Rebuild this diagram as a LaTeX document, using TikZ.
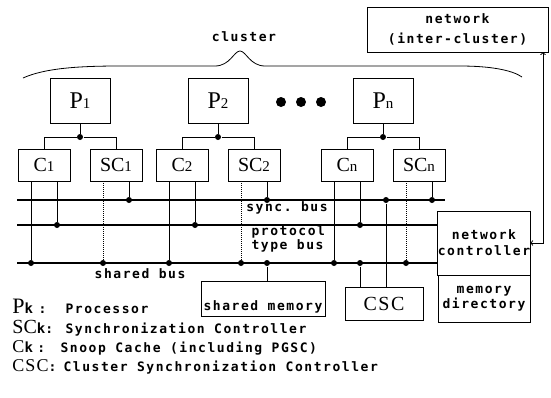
\documentclass[tikz,border=0pt]{standalone}
\usepackage{fontspec}
\setmainfont{Liberation Serif}
\newfontfamily\dotfont[LetterSpace=12]{DejaVu Sans Mono Bold}
\usetikzlibrary{positioning}
\newcommand{\subidx}[1]{{\fontsize{15}{15}\selectfont #1}}
\newcommand{\keyk}{{\dotfont\fontsize{14}{14}\selectfont k}}

\begin{document}
\begin{tikzpicture}[x=1pt,y=-1pt,line width=1pt,>=to,
  box/.style={draw,inner sep=0pt,outer sep=0pt},
  pbox/.style={box,minimum width=60,minimum height=45,font=\fontsize{24}{24}\selectfont},
  cbox/.style={box,minimum width=52,minimum height=32,font=\fontsize{20}{20}\selectfont},
  lbl/.style={inner sep=0pt,font=\dotfont\fontsize{13}{16}\selectfont},
  key/.style={inner sep=0pt,anchor=base west},
  dot/.style={circle,fill,inner sep=0pt,minimum size=6},
  bus/.style={line width=1.1pt}]
\useasboundingbox (0,0) rectangle (551,397);
\draw[line width=0.8pt] (23,78) .. controls (45,68) and (80,66) .. (120,66) -- (215,66) .. controls (230,66) and (234,51) .. (240,51) .. controls (246,51) and (250,66) .. (265,66) -- (460,66) .. controls (490,66) and (512,70) .. (522,77);
\node[lbl] (cluster) at (244,37) {cluster};
\node[box,lbl,align=center,minimum width=181,minimum height=45,font=\dotfont\fontsize{13}{20}\selectfont] (network) at (457.5,29.5) {network\\(inter-cluster)};
\foreach \xx in {281,301,321} \fill (\xx,102) circle[radius=5pt];
\node[box,lbl,align=center,minimum width=92,minimum height=64] (netctrl) at (484,243) {network\\controller};
\node[box,lbl,align=center,minimum width=92,minimum height=47,below=0pt of netctrl,font=\dotfont\fontsize{13}{15}\selectfont] (memdir) {memory\\directory};
\coordinate (syncW) at (17,200);
\coordinate (syncE) at (445,200);
\coordinate (protW) at (17,225);
\coordinate (sharW) at (17,263);
\draw[bus] (syncW) -- (syncE);
\draw[bus] (protW) -- (protW -| netctrl.west);
\draw[bus] (sharW) -- (sharW -| netctrl.west);
\foreach \i/\xp in {1/80,2/218,n/383}{
  \node[pbox] (P\i) at (\xp,101) {P\subidx{\i}};
  \node[cbox] (C\i) at (\xp-36,165) {C\subidx{\i}};
  \node[cbox] (SC\i) at (\xp+36,165) {SC\subidx{\i}};
  \node[dot] (J\i) at (\xp,137) {};
  \draw (P\i) -- (J\i);
  \draw (C\i) |- (J\i) -| (SC\i);
  \node[dot] (cs\i) at (\xp-49,263) {};
  \node[dot] (cp\i) at (\xp-23,225) {};
  \node[dot] (ss\i) at (\xp+23,263) {};
  \node[dot] (sy\i) at (\xp+49,200) {};
  \draw (cs\i |- C\i.south) -- (cs\i);
  \draw (cp\i |- C\i.south) -- (cp\i);
  \draw[densely dotted] (ss\i |- SC\i.south) -- (ss\i);
  \draw (sy\i |- SC\i.south) -- (sy\i);
}
\node[box,lbl,minimum width=124,minimum height=35,text height=25pt,text depth=2pt] (mem) at (263,298.5) {shared memory};
\node[dot] (memtap) at (267,263) {};
\draw (memtap) -- (memtap |- mem.north);
\node[box,minimum width=78,minimum height=33,font=\fontsize{20}{20}\selectfont] (CSC) at (384,303.5) {C\kern1.5pt S\kern1.5pt C};
\node[dot] (cscs) at (360,263) {};
\node[dot] (cscy) at (386,200) {};
\draw (cscs) -- (cscs |- CSC.north);
\draw (cscy) -- (cscy |- CSC.north);
\coordinate (netx) at (543,52);
\draw[<->] (netx) |- (netctrl.east);
\node[lbl] (syncl) at (287,208) {sync.\ bus};
\node[lbl,align=left,anchor=west,font=\dotfont\fontsize{13}{12}\selectfont] (protl) at (251,239) {protocol\\type bus};
\node[lbl] (sharl) at (140,274) {shared bus};
\node[key,font=\fontsize{22}{22}\selectfont] (kP) at (12,313) {P\keyk\ {\dotfont\fontsize{13}{13}\selectfont:}};
\node[lbl,anchor=base west] (dP) at (65,313) {Processor};
\node[key,font=\fontsize{20}{20}\selectfont] (kSC) at (12,333) {SC\keyk{\dotfont\fontsize{13}{13}\selectfont:}};
\node[lbl,anchor=base west] (dSC) at (65,333) {Synchronization Controller};
\node[key,font=\fontsize{18}{18}\selectfont] (kC) at (12,352) {C\keyk\ {\dotfont\fontsize{13}{13}\selectfont:}};
\node[lbl,anchor=base west] (dC) at (60,352) {Snoop Cache (including PGSC)};
\node[key,font=\fontsize{18}{18}\selectfont] (kCSC) at (12,371) {C\kern1pt S\kern1pt C{\dotfont\fontsize{13}{13}\selectfont:}};
\node[lbl,anchor=base west] (dCSC) at (63,371) {Cluster Synchronization Controller};
\end{tikzpicture}
\end{document}
